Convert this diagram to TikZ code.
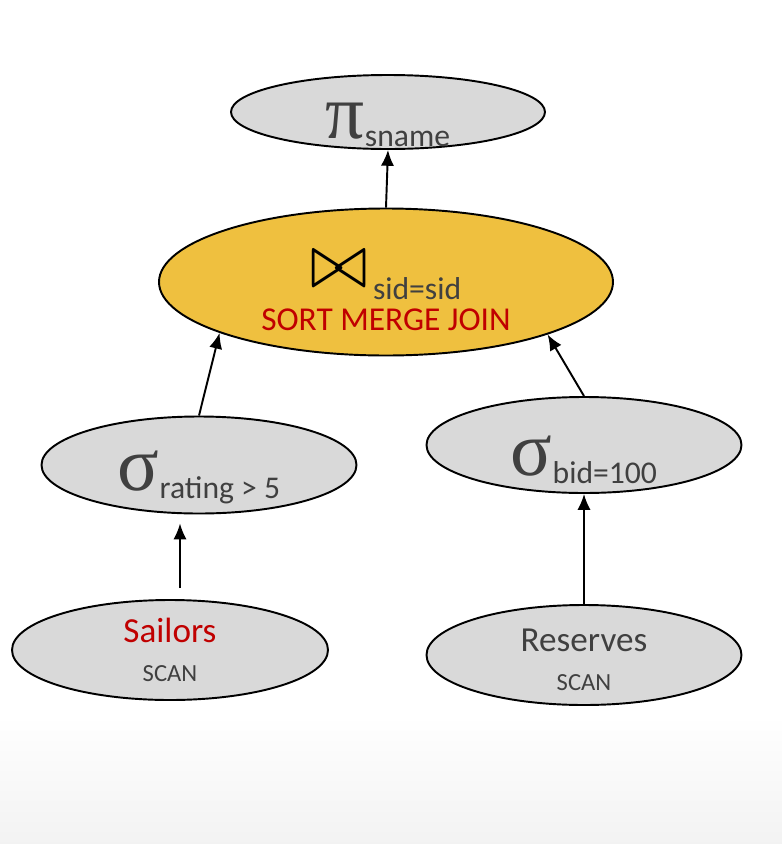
\documentclass[tikz,border=0pt]{standalone}
\usepackage{fontspec}
\setmainfont{Carlito}
\newfontfamily\grk{Liberation Serif}
\usepackage{graphicx}
\usepackage{tikz}
\usetikzlibrary{arrows.meta,positioning,shapes}

\definecolor{opgray}{HTML}{D9D9D9}
\definecolor{joingold}{HTML}{EFC03F}
\definecolor{txtgray}{HTML}{404040}
\definecolor{txtred}{HTML}{C00000}

\newcommand{\opsym}[1]{{\fontsize{44}{44}\selectfont\grk #1}}
\newcommand{\opsub}[1]{\raisebox{-0.9ex}{\fontsize{18}{18}\selectfont #1}}

\tikzset{
  op/.style={ellipse, draw=black, line width=1.1pt, fill=opgray, inner sep=0pt},
  optxt/.style={text=txtgray, inner sep=0pt, align=center},
  arr/.style={-{Latex[length=9pt,width=7.5pt]}, line width=1.1pt},
}

\begin{document}
\begin{tikzpicture}
    % page and the grey fade at the bottom
    \fill[white] (0,0) rectangle (15.64,-16.88);
    \shade[top color=white, bottom color=black!5] (0,-14.3) rectangle (15.64,-16.88);

    \node[op, minimum width=6.28cm, minimum height=1.48cm] (pi) at (7.76, -2.24) {};
    \node[op, fill=joingold, minimum width=9.08cm, minimum height=2.94cm] (join) at (7.72, -5.64) {};
    \node[op, minimum width=6.3cm, minimum height=1.94cm] (sl) at (3.98, -9.3) {};
    \node[op, minimum width=6.3cm, minimum height=1.92cm] (sr) at (11.68, -8.9) {};
    \node[op, minimum width=6.32cm, minimum height=2.0cm] (sa) at (3.4, -13.0) {};
    \node[op, minimum width=6.3cm, minimum height=2.0cm] (re) at (11.68, -13.1) {};

    \node[optxt] (pit) at (7.76, -2.5) {\opsym{π}\opsub{sname}};
    \node[optxt] (joint) at (7.72, -5.82) {\textcolor{black}{\resizebox{1.14cm}{0.72cm}{$\bowtie$}}\hspace{3pt}%
      \raisebox{-1.4ex}{\fontsize{18}{18}\selectfont sid=sid}\\[4pt]
      {\fontsize{19}{19}\selectfont\color{txtred}SORT MERGE JOIN}};
    \node[optxt] (slt) at (3.98, -9.55) {\opsym{σ}\opsub{rating > 5}};
    \node[optxt] (srt) at (11.68, -9.2) {\opsym{σ}\opsub{bid=100}};
    \node[optxt] (sat) at (3.4, -13.0) {{\fontsize{20}{20}\selectfont\color{txtred}Sailors}\\[10pt]
      {\fontsize{14}{14}\selectfont SCAN}};
    \node[optxt] (ret) at (11.68, -13.2) {{\fontsize{20}{20}\selectfont Reserves}\\[10pt]
      {\fontsize{14}{14}\selectfont SCAN}};

    \draw[arr] (join.north) -- (pi.south);
    \draw[arr] (sl.north) -- (join.197);
    \draw[arr] (sr.north) -- (join.342);
    \draw[arr] ([shift={(0.2,0.22)}]sa.north) -- ([shift={(-0.38,-0.18)}]sl.south);
    \draw[arr] (re.north) -- (sr.south);
  \end{tikzpicture}
\end{document}
